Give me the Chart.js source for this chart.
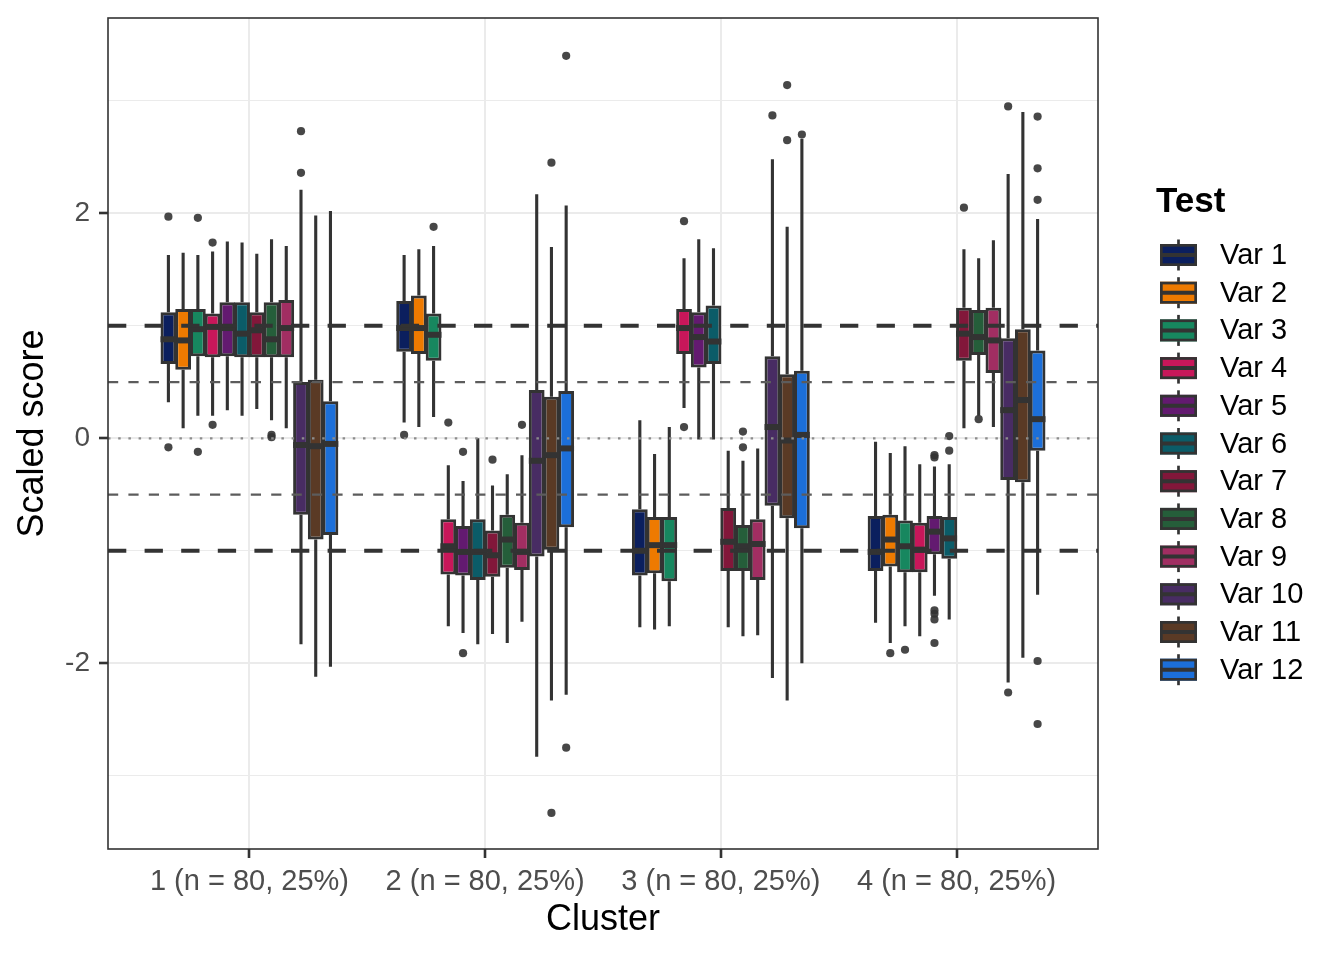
<!DOCTYPE html>
<html>
<head>
<meta charset="utf-8">
<script src="https://cdn.jsdelivr.net/npm/chart.js@4.4.1/dist/chart.umd.min.js"></script>
<style>
  html, body { margin: 0; padding: 0; background: #ffffff; }
  #wrap { width: 1344px; height: 960px; position: relative; }
</style>
</head>
<body>
<div id="wrap"><canvas id="c" width="1344" height="960"></canvas></div>
<script>
// ---------------- DATA ----------------
const clusters = ['1 (n = 80, 25%)', '2 (n = 80, 25%)', '3 (n = 80, 25%)', '4 (n = 80, 25%)'];
const variables = ['Var 1', 'Var 2', 'Var 3', 'Var 4', 'Var 5', 'Var 6', 'Var 7', 'Var 8', 'Var 9', 'Var 10', 'Var 11', 'Var 12'];
const colors = ['#0b1f5e', '#ee7a00', '#17875f', '#c8175a', '#631a70', '#0b5c68',
                '#82173a', '#255e3a', '#a12e62', '#482c63', '#5a3a25', '#1c6fd9'];

// rows = variables, columns = clusters
const whiskerLow = [
  [0.32, 0.14, -1.68, -1.64],
  [0.09, 0.10, -1.70, -1.82],
  [0.20, 0.19, -1.67, -1.67],
  [0.20, -1.67, 0.27, -1.76],
  [0.25, -1.73, -0.01, -1.40],
  [0.20, -1.83, -0.01, -1.61],
  [0.26, -1.74, -1.68, 0.09],
  [0.16, -1.82, -1.76, 0.20],
  [0.09, -1.63, -1.75, 0.10],
  [-1.83, -2.83, -2.13, -2.17],
  [-2.12, -2.33, -2.33, -1.95],
  [-2.03, -2.28, -2.00, -1.39]
];
const q1 = [
  [0.66, 0.77, -1.22, -1.18],
  [0.61, 0.75, -1.20, -1.14],
  [0.73, 0.69, -1.27, -1.19],
  [0.72, -1.21, 0.75, -1.19],
  [0.73, -1.22, 0.63, -1.03],
  [0.72, -1.26, 0.66, -1.07],
  [0.72, -1.23, -1.18, 0.69],
  [0.72, -1.15, -1.18, 0.74],
  [0.72, -1.17, -1.26, 0.58],
  [-0.68, -1.05, -0.60, -0.37],
  [-0.90, -0.99, -0.71, -0.39],
  [-0.86, -0.79, -0.80, -0.11]
];
const median = [
  [0.88, 0.98, -1.00, -1.01],
  [0.87, 0.98, -0.95, -0.90],
  [0.97, 0.92, -0.95, -0.96],
  [0.99, -0.96, 0.98, -0.99],
  [0.98, -1.01, 0.90, -0.83],
  [0.93, -1.01, 0.86, -0.89],
  [0.96, -1.04, -0.92, 0.93],
  [0.88, -0.90, -0.96, 0.90],
  [0.98, -1.01, -0.94, 0.87],
  [-0.06, -0.20, 0.10, 0.25],
  [-0.07, -0.15, -0.02, 0.34],
  [-0.05, -0.09, 0.03, 0.17]
];
const q3 = [
  [1.12, 1.22, -0.63, -0.69],
  [1.15, 1.27, -0.70, -0.68],
  [1.15, 1.11, -0.70, -0.73],
  [1.11, -0.72, 1.15, -0.75],
  [1.21, -0.78, 1.12, -0.69],
  [1.21, -0.72, 1.18, -0.70],
  [1.12, -0.82, -0.62, 1.16],
  [1.21, -0.68, -0.77, 1.14],
  [1.23, -0.75, -0.72, 1.16],
  [0.50, 0.43, 0.73, 0.89],
  [0.52, 0.37, 0.57, 0.97],
  [0.33, 0.42, 0.60, 0.78]
];
const whiskerHigh = [
  [1.63, 1.63, 0.16, -0.03],
  [1.65, 1.68, -0.14, -0.13],
  [1.63, 1.71, 0.10, -0.07],
  [1.66, -0.24, 1.60, -0.23],
  [1.75, -0.38, 1.77, -0.25],
  [1.74, 0.00, 1.69, -0.23],
  [1.64, -0.42, -0.11, 1.68],
  [1.77, -0.32, -0.20, 1.60],
  [1.71, -0.15, -0.09, 1.76],
  [2.21, 2.17, 2.48, 2.35],
  [1.98, 1.70, 1.88, 2.90],
  [2.02, 2.07, 2.66, 1.95]
];
const outliers = [
  [[1.97, -0.08], [0.03], [], []],
  [[], [], [], [-1.91]],
  [[1.96, -0.12], [1.88], [], [-1.88]],
  [[1.74, 0.12], [0.14], [1.93, 0.10], []],
  [[], [-0.12, -1.91], [], [-0.15, -0.17, -1.53, -1.56, -1.61, -1.82]],
  [[], [], [], [0.02, -0.11]],
  [[], [-0.19], [], [2.05]],
  [[0.03, 0.01], [], [0.06, -0.08], [0.17]],
  [[], [0.12], [], []],
  [[2.73, 2.36], [], [2.87], [2.95, -2.26]],
  [[], [2.45, -3.33], [3.14, 2.65], []],
  [[], [3.40, -2.75], [2.70], [2.86, 2.40, 2.12, -1.98, -2.54]]
];
const yTickLabels = [-2, 0, 2];
const yGridValues = [-3, -2, -1, 0, 1, 2, 3];
const xTickValues = [0, 1, 2, 3];
const refThick = [-1, 1];
const refThin = [-0.5, 0.5];
const refDotted = [0];

// ---------------- CHART ----------------
const FONT = "'Liberation Sans', Arial, Helvetica, sans-serif";

const datasets = variables.map((name, v) => ({
  label: name,
  data: clusters.map((c, k) => ({ x: xTickValues[k], y: [q1[v][k], q3[v][k]] })),
  backgroundColor: colors[v],
  borderColor: '#333333',
  borderWidth: 3,
  borderSkipped: false,
  categoryPercentage: 0.75,
  barPercentage: 1.07,
  inflateAmount: 0
}));

const boxExtras = {
  id: 'boxExtras',
  beforeDatasetDraw(chart, args) {
    const v = args.index;
    const ys = chart.scales.y;
    const ctx = chart.ctx;
    const a = chart.chartArea;
    ctx.save();
    ctx.beginPath(); ctx.rect(a.left, a.top, a.right - a.left, a.bottom - a.top); ctx.clip();
    args.meta.data.forEach((bar, k) => {
      const x = bar.x;
      ctx.strokeStyle = '#333333';
      ctx.lineWidth = 3.1;
      ctx.lineCap = 'butt';
      ctx.setLineDash([]);
      ctx.beginPath();
      ctx.moveTo(x, ys.getPixelForValue(whiskerHigh[v][k]));
      ctx.lineTo(x, ys.getPixelForValue(q3[v][k]));
      ctx.moveTo(x, ys.getPixelForValue(q1[v][k]));
      ctx.lineTo(x, ys.getPixelForValue(whiskerLow[v][k]));
      ctx.stroke();
      ctx.fillStyle = 'rgba(51,51,51,0.9)';
      outliers[v][k].forEach(o => {
        ctx.beginPath();
        ctx.arc(x, ys.getPixelForValue(o), 4.1, 0, Math.PI * 2);
        ctx.fill();
      });
    });
    ctx.restore();
  },
  afterDatasetDraw(chart, args) {
    const v = args.index;
    const ys = chart.scales.y;
    const ctx = chart.ctx;
    ctx.save();
    ctx.strokeStyle = '#333333';
    ctx.lineWidth = 6;
    ctx.lineCap = 'butt';
    args.meta.data.forEach((bar, k) => {
      const y = ys.getPixelForValue(median[v][k]);
      ctx.beginPath();
      ctx.moveTo(bar.x - bar.width / 2, y);
      ctx.lineTo(bar.x + bar.width / 2, y);
      ctx.stroke();
    });
    ctx.restore();
  },
  afterDatasetsDraw(chart) {
    const ys = chart.scales.y;
    const ctx = chart.ctx;
    const a = chart.chartArea;
    const hline = (val, color, width, dash) => {
      const y = ys.getPixelForValue(val);
      ctx.save();
      ctx.strokeStyle = color; ctx.lineWidth = width; ctx.setLineDash(dash); ctx.lineCap = 'butt';
      ctx.beginPath(); ctx.moveTo(a.left, y); ctx.lineTo(a.right, y); ctx.stroke();
      ctx.restore();
    };
    refDotted.forEach(v => hline(v, '#8c8c8c', 2.2, [2.5, 7.7]));
    refThin.forEach(v => hline(v, '#5c5c5c', 2.2, [10.2, 10.2]));
    refThick.forEach(v => hline(v, '#333333', 4, [18.3, 18.3]));
  },
  afterDraw(chart) {
    const ctx = chart.ctx;
    const a = chart.chartArea;
    ctx.save();
    // panel border
    ctx.strokeStyle = '#333333';
    ctx.lineWidth = 1.6;
    ctx.setLineDash([]);
    ctx.strokeRect(a.left, a.top, a.right - a.left, a.bottom - a.top);
    // axis titles
    ctx.fillStyle = '#000000';
    ctx.font = '36px ' + FONT;
    ctx.textAlign = 'center';
    ctx.textBaseline = 'middle';
    ctx.fillText('Cluster', (a.left + a.right) / 2, 920);
    ctx.save();
    ctx.translate(33, (a.top + a.bottom) / 2);
    ctx.rotate(-Math.PI / 2);
    ctx.fillText('Scaled score', 0, 0);
    ctx.restore();
    // legend
    ctx.textAlign = 'left';
    ctx.textBaseline = 'alphabetic';
    ctx.font = 'bold 35px ' + FONT;
    ctx.fillText('Test', 1156, 212);
    const keyX = 1160, keyW = 37, rowY0 = 255, rowH = 37.7;
    variables.forEach((name, v) => {
      const cy = rowY0 + v * rowH;
      ctx.strokeStyle = '#333333';
      ctx.lineWidth = 2.7;
      ctx.beginPath();
      ctx.moveTo(keyX + keyW / 2, cy - 15.5);
      ctx.lineTo(keyX + keyW / 2, cy + 15.5);
      ctx.stroke();
      ctx.fillStyle = colors[v];
      ctx.fillRect(keyX, cy - 11, keyW, 22);
      ctx.strokeRect(keyX + 1.35, cy - 11 + 1.35, keyW - 2.7, 22 - 2.7);
      ctx.lineWidth = 4;
      ctx.beginPath();
      ctx.moveTo(keyX, cy);
      ctx.lineTo(keyX + keyW, cy);
      ctx.stroke();
      ctx.fillStyle = '#000000';
      ctx.font = '29px ' + FONT;
      ctx.textBaseline = 'middle';
      ctx.fillText(name, 1220, cy + 1);
    });
    ctx.restore();
  }
};

new Chart(document.getElementById('c'), {
  type: 'bar',
  data: { datasets },
  options: {
    responsive: false,
    animation: false,
    events: [],
    layout: { padding: { top: 18, right: 246, left: 0, bottom: 0 } },
    plugins: { legend: { display: false }, tooltip: { enabled: false } },
    scales: {
      x: {
        type: 'linear',
        min: -0.6,
        max: 3.6,
        offset: false,
        afterBuildTicks: (s) => { s.ticks = xTickValues.map(v => ({ value: v })); },
        afterFit: (s) => { s.height = 111; s.paddingLeft = 0; s.paddingRight = 0; },
        border: { display: false },
        grid: {
          offset: false,
          color: '#ebebeb',
          lineWidth: 2,
          drawTicks: true,
          tickLength: 9,
          tickWidth: 2.6,
          tickColor: '#333333'
        },
        ticks: {
          autoSkip: false,
          maxRotation: 0,
          padding: 7,
          color: '#4d4d4d',
          font: { family: FONT, size: 29 },
          callback: (value, index) => clusters[index]
        }
      },
      y: {
        type: 'linear',
        min: -3.651,
        max: 3.736,
        afterBuildTicks: (s) => { s.ticks = yGridValues.map(v => ({ value: v })); },
        afterFit: (s) => { s.width = 108; s.paddingTop = 0; s.paddingBottom = 0; },
        border: { display: false },
        grid: {
          color: '#ebebeb',
          lineWidth: (c) => (c.tick && yTickLabels.includes(c.tick.value)) ? 2 : 1,
          drawTicks: true,
          tickLength: 9,
          tickWidth: 2.6,
          tickColor: (c) => (c.tick && yTickLabels.includes(c.tick.value)) ? '#333333' : 'rgba(0,0,0,0)'
        },
        ticks: {
          padding: 9,
          color: '#4d4d4d',
          font: { family: FONT, size: 28 },
          callback: (value) => yTickLabels.includes(value) ? String(value) : ''
        }
      }
    }
  },
  plugins: [boxExtras]
});
</script>
</body>
</html>
